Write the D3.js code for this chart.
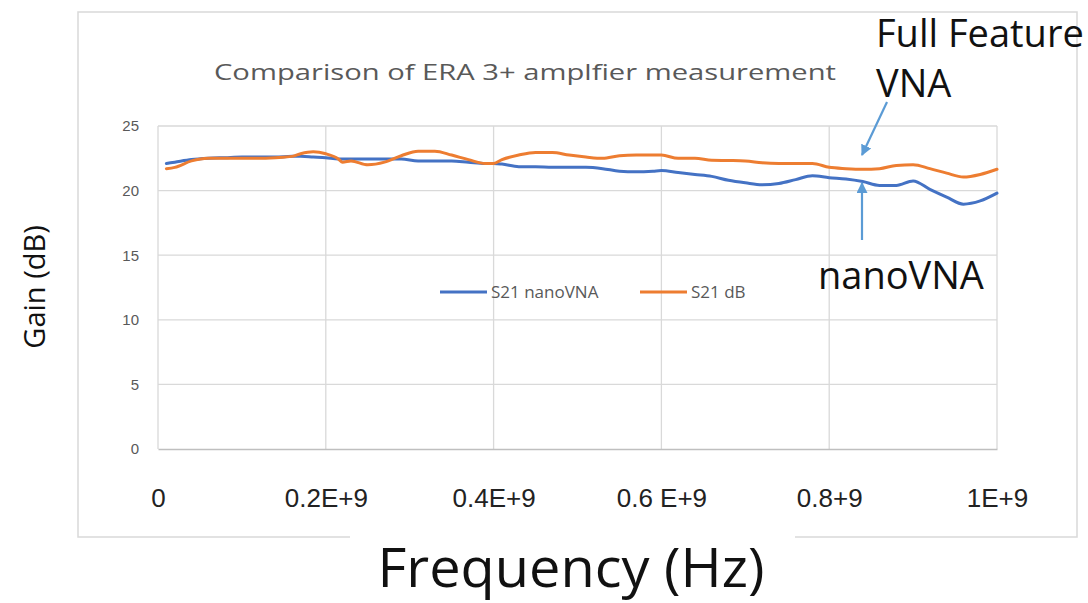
<!DOCTYPE html>
<meta charset="utf-8">
<title>Comparison of ERA 3+ amplfier measurement</title>
<style>
body{
  margin:0;
  background:#fff;
  font-family:'Open Sans', sans-serif;
}
svg{display:block;}
.grid line{stroke:#d9d9d9; stroke-width:1.3px;}
.ytick text{fill:#595959; font-size:15px;}
.xtick text{fill:#222; font-size:26px;}
.series{fill:none; stroke-width:3px; stroke-linejoin:round; stroke-linecap:round;}
</style>
<svg width="1088" height="603"></svg>
<script src="https://d3js.org/d3.v7.min.js"></script>
<script>

// frequency points (MHz)
var freqMHz = [10,20,40,60,80,100,120,140,160,170,185,200,215,220,230,250,270,290,310,330,350,370,390,400,410,430,450,470,490,510,530,550,570,590,600,620,640,660,680,700,720,740,760,780,800,820,840,860,880,900,920,940,960,980,1000];
// S21 nanoVNA (dB)
var s21nano = [22.1,22.2,22.4,22.5,22.55,22.6,22.6,22.6,22.65,22.65,22.6,22.55,22.45,22.45,22.45,22.45,22.45,22.45,22.3,22.3,22.3,22.2,22.1,22.1,22.05,21.85,21.85,21.8,21.8,21.8,21.7,21.5,21.45,21.5,21.55,21.4,21.25,21.1,20.8,20.6,20.45,20.55,20.85,21.15,21.0,20.9,20.7,20.4,20.4,20.75,20.1,19.5,18.95,19.2,19.8];
// S21 dB (full feature VNA)
var s21full = [21.7,21.8,22.3,22.5,22.5,22.5,22.5,22.55,22.65,22.85,23.0,22.85,22.45,22.2,22.3,22.0,22.2,22.7,23.05,23.05,22.75,22.4,22.1,22.1,22.4,22.75,22.95,22.95,22.75,22.6,22.5,22.7,22.75,22.75,22.75,22.5,22.5,22.35,22.33,22.3,22.15,22.1,22.1,22.1,21.8,21.7,21.65,21.7,21.95,22.0,21.7,21.35,21.05,21.25,21.65];

var seriesNames = ["S21 nanoVNA", "S21 dB"];
var seriesColors = ["#4472c4", "#ed7d31"];
var xTickVals = [0, 0.2e9, 0.4e9, 0.6e9, 0.8e9, 1e9];
var xTickLabels = ["0", "0.2E+9", "0.4E+9", "0.6 E+9", "0.8+9", "1E+9"];
var yTickVals = [0, 5, 10, 15, 20, 25];

var svg = d3.select("svg");

var x = d3.scaleLinear().domain([0, 1e9]).range([158, 997]);
var y = d3.scaleLinear().domain([0, 25]).range([449, 126]);

// outer chart frame
svg.append("rect")
  .attr("x", 78).attr("y", 12)
  .attr("width", 999).attr("height", 525)
  .attr("fill", "#fff")
  .attr("stroke", "#d9d9d9")
  .attr("stroke-width", 1.5);

// title
svg.append("text")
  .attr("x", 525).attr("y", 80)
  .attr("text-anchor", "middle")
  .attr("fill", "#595959")
  .attr("textLength", 622)
  .attr("lengthAdjust", "spacingAndGlyphs")
  .style("font-size", "22px")
  .text("Comparison of ERA 3+ amplfier measurement");

// gridlines
var grid = svg.append("g").attr("class", "grid");
grid.selectAll(".hl").data(yTickVals.slice(1)).enter().append("line")
  .attr("x1", x(0)).attr("x2", x(1e9))
  .attr("y1", function(d){ return y(d); }).attr("y2", function(d){ return y(d); });
grid.selectAll(".vl").data(xTickVals).enter().append("line")
  .attr("x1", function(d){ return x(d); }).attr("x2", function(d){ return x(d); })
  .attr("y1", y(25)).attr("y2", y(0));

// axes
var yAxis = svg.append("g")
  .attr("class", "ytick")
  .attr("transform", "translate(" + (x(0) - 6) + ",0)")
  .call(d3.axisLeft(y).tickValues(yTickVals).tickSize(0).tickPadding(13));
yAxis.select(".domain").remove();

var xAxis = svg.append("g")
  .attr("class", "xtick")
  .attr("transform", "translate(0," + y(0) + ")")
  .call(d3.axisBottom(x).tickValues(xTickVals).tickSize(0).tickPadding(58)
    .tickFormat(function(d, i){ return xTickLabels[i]; }));
xAxis.select(".domain").attr("stroke", "#bfbfbf").attr("stroke-width", 1.5);
xAxis.selectAll("text").attr("dy", "0");

// lines
var data = [s21nano, s21full];
var line = d3.line()
  .x(function(d, i){ return x(freqMHz[i] * 1e6); })
  .y(function(d){ return y(d); })
  .curve(d3.curveMonotoneX);

svg.selectAll(".series").data(data).enter().append("path")
  .attr("class", "series")
  .attr("stroke", function(d, i){ return seriesColors[i]; })
  .attr("d", line);

// legend
var legendX = [440, 640];
var lg = svg.selectAll(".lg").data(seriesNames).enter().append("g")
  .attr("transform", function(d, i){ return "translate(" + legendX[i] + ",292)"; });
lg.append("line")
  .attr("x1", 0).attr("x2", 47)
  .attr("stroke", function(d, i){ return seriesColors[i]; })
  .attr("stroke-width", 3);
lg.append("text")
  .attr("x", 51).attr("dy", "0.35em")
  .attr("fill", "#595959")
  .style("font-size", "17px")
  .text(function(d){ return d; });

// axis titles
svg.append("text")
  .attr("transform", "translate(45,287) rotate(-90)")
  .attr("text-anchor", "middle")
  .attr("fill", "#111")
  .style("font-size", "29px")
  .text("Gain (dB)");

svg.append("rect")
  .attr("x", 350).attr("y", 530)
  .attr("width", 445).attr("height", 73)
  .attr("fill", "#fff");
svg.append("text")
  .attr("x", 571).attr("y", 587)
  .attr("text-anchor", "middle")
  .attr("fill", "#111")
  .attr("textLength", 387)
  .attr("lengthAdjust", "spacingAndGlyphs")
  .style("font-size", "54px")
  .text("Frequency (Hz)");

// annotations
var anno = svg.append("g").attr("fill", "#111").style("font-size", "38px");
anno.append("text").attr("x", 876).attr("y", 47).text("Full Feature");
anno.append("text").attr("x", 876).attr("y", 97).text("VNA");
anno.append("text").attr("x", 818).attr("y", 289).text("nanoVNA");

svg.append("defs").append("marker")
  .attr("id", "ah")
  .attr("viewBox", "0 0 10 10")
  .attr("refX", 9).attr("refY", 5)
  .attr("markerWidth", 5).attr("markerHeight", 5)
  .attr("markerUnits", "strokeWidth")
  .attr("orient", "auto")
  .append("path").attr("d", "M0,0L10,5L0,10z").attr("fill", "#5b9bd5");

var arrows = [[887, 102, 862, 155], [862, 240, 862, 183]];
svg.selectAll(".arr").data(arrows).enter().append("line")
  .attr("x1", function(d){ return d[0]; }).attr("y1", function(d){ return d[1]; })
  .attr("x2", function(d){ return d[2]; }).attr("y2", function(d){ return d[3]; })
  .attr("stroke", "#5b9bd5")
  .attr("stroke-width", 2.2)
  .attr("marker-end", "url(#ah)");

</script>
